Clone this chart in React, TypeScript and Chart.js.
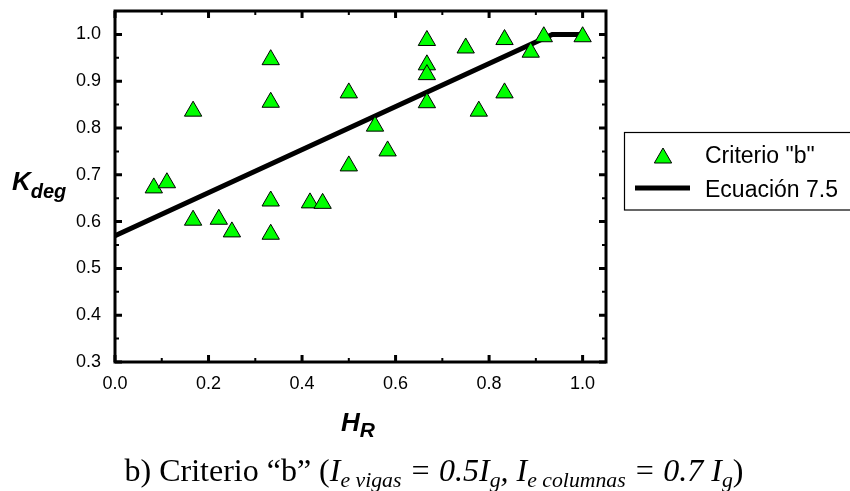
import React, { useEffect, useRef } from "react";
import { Chart, registerables } from "chart.js";

Chart.register(...registerables);

// ---- data ----
const hR = [0.083, 0.111, 0.167, 0.167, 0.222, 0.25, 0.333, 0.333, 0.333, 0.333, 0.417, 0.444, 0.5, 0.5, 0.556, 0.583, 0.667, 0.667, 0.667, 0.667, 0.75, 0.778, 0.833, 0.833, 0.889, 0.917, 1.0];
const kDeg = [0.672, 0.683, 0.836, 0.603, 0.605, 0.578, 0.946, 0.855, 0.644, 0.573, 0.64, 0.639, 0.875, 0.719, 0.804, 0.751, 0.987, 0.935, 0.914, 0.854, 0.971, 0.836, 0.989, 0.875, 0.962, 0.995, 0.995];
const eqX = [0, 0.935, 1.0];
const eqY = [0.57, 1.0, 1.0];

const xTicks = [0, 0.2, 0.4, 0.6, 0.8, 1.0];
const xMinor = [0.1, 0.3, 0.5, 0.7, 0.9];
const yTicks = [0.3, 0.4, 0.5, 0.6, 0.7, 0.8, 0.9, 1.0];
const yMinor = [0.35, 0.45, 0.55, 0.65, 0.75, 0.85, 0.95];

const seriesLabels = ['Criterio "b"', "Ecuación 7.5"];

const SANS = "'Liberation Sans', Arial, sans-serif";

function triPath(ctx: CanvasRenderingContext2D, x: number, y: number, r: number) {
  ctx.beginPath();
  let a = 0;
  for (let i = 0; i < 3; i++) {
    const px = x + Math.sin(a) * r;
    const py = y - Math.cos(a) * r;
    if (i === 0) ctx.moveTo(px, py);
    else ctx.lineTo(px, py);
    a += (2 * Math.PI) / 3;
  }
  ctx.closePath();
}

const framePlugin = {
  id: "frameTicks",
  beforeDatasetsDraw(chart: any) {
    const { ctx, chartArea, scales } = chart;
    const { left, right, top, bottom } = chartArea;
    ctx.save();
    ctx.strokeStyle = "#000";
    ctx.lineWidth = 3;
    ctx.strokeRect(left, top, right - left, bottom - top);
    const drawX = (vals: number[], len: number) => {
      vals.forEach((v) => {
        const px = scales.x.getPixelForValue(v);
        ctx.beginPath();
        ctx.moveTo(px, bottom);
        ctx.lineTo(px, bottom - len);
        ctx.moveTo(px, top);
        ctx.lineTo(px, top + len);
        ctx.stroke();
      });
    };
    const drawY = (vals: number[], len: number) => {
      vals.forEach((v) => {
        const py = scales.y.getPixelForValue(v);
        ctx.beginPath();
        ctx.moveTo(left, py);
        ctx.lineTo(left + len, py);
        ctx.moveTo(right, py);
        ctx.lineTo(right - len, py);
        ctx.stroke();
      });
    };
    ctx.lineWidth = 3;
    drawX(xTicks, 7);
    drawY(yTicks, 7);
    ctx.lineWidth = 2;
    drawX(xMinor, 4);
    drawY(yMinor, 4);
    ctx.restore();
  },
  afterDraw(chart: any) {
    const { ctx } = chart;
    ctx.save();
    ctx.fillStyle = "#000";
    ctx.textBaseline = "alphabetic";
    ctx.textAlign = "left";
    // y title K_deg
    ctx.font = `italic bold 26px ${SANS}`;
    ctx.fillText("K", 12, 190);
    const kw = ctx.measureText("K").width;
    ctx.font = `italic bold 20px ${SANS}`;
    ctx.fillText("deg", 12 + kw, 198);
    // x title H_R
    ctx.font = `italic bold 26px ${SANS}`;
    ctx.fillText("H", 341, 431);
    const hw = ctx.measureText("H").width;
    ctx.font = `italic bold 21px ${SANS}`;
    ctx.fillText("R", 341 + hw, 437);

    // legend
    ctx.strokeStyle = "#000";
    ctx.lineWidth = 1.2;
    ctx.strokeRect(624.5, 132.5, 300, 77.5);
    const ds0 = chart.data.datasets[0];
    triPath(ctx, 663, 158, 10);
    ctx.fillStyle = ds0.backgroundColor;
    ctx.fill();
    ctx.lineWidth = 1;
    ctx.strokeStyle = "#000";
    ctx.stroke();
    ctx.beginPath();
    ctx.lineWidth = 5;
    ctx.moveTo(635, 188);
    ctx.lineTo(690, 188);
    ctx.stroke();
    ctx.fillStyle = "#000";
    ctx.font = `23px ${SANS}`;
    ctx.fillText(seriesLabels[0], 705, 163);
    ctx.fillText(seriesLabels[1], 705, 197);
    ctx.restore();
  },
};

export default function App() {
  const ref = useRef<HTMLCanvasElement | null>(null);
  useEffect(() => {
    if (!ref.current) return;
    const chart = new Chart(ref.current, {
      type: "scatter",
      data: {
        datasets: [
          {
            label: seriesLabels[0],
            data: hR.map((x, i) => ({ x, y: kDeg[i] })),
            pointStyle: "triangle",
            pointRadius: 10,
            pointHoverRadius: 10,
            backgroundColor: "#00ff00",
            borderColor: "#000",
            borderWidth: 1,
            showLine: false,
            order: 0,
          },
          {
            label: seriesLabels[1],
            data: eqX.map((x, i) => ({ x, y: eqY[i] })),
            showLine: true,
            borderColor: "#000",
            borderWidth: 5,
            pointRadius: 0,
            fill: false,
            order: 1,
          },
        ],
      },
      options: {
        animation: false,
        responsive: false,
        layout: { padding: { left: 0, top: 9, right: 244, bottom: 0 } },
        plugins: { legend: { display: false }, tooltip: { enabled: false } },
        scales: {
          x: {
            type: "linear",
            min: 0,
            max: 1.05,
            grid: { display: false },
            border: { display: false },
            afterBuildTicks: (s: any) => {
              s.ticks = xTicks.map((v) => ({ value: v }));
            },
            afterFit: (s: any) => {
              s.height = 129;
              s.paddingLeft = 0;
              s.paddingRight = 0;
            },
            ticks: {
              color: "#000",
              padding: 3,
              maxRotation: 0,
              font: { family: SANS, size: 18 },
              callback: (v: any) => Number(v).toFixed(1),
            },
          },
          y: {
            type: "linear",
            min: 0.3,
            max: 1.05,
            grid: { display: false },
            border: { display: false },
            afterBuildTicks: (s: any) => {
              s.ticks = yTicks.map((v) => ({ value: v }));
            },
            afterFit: (s: any) => {
              s.width = 115;
              s.paddingTop = 0;
              s.paddingBottom = 0;
            },
            ticks: {
              color: "#000",
              padding: 6,
              font: { family: SANS, size: 18 },
              callback: (v: any) => Number(v).toFixed(1),
            },
          },
        },
      },
      plugins: [framePlugin],
    } as any);
    return () => chart.destroy();
  }, []);

  const sub: React.CSSProperties = { fontSize: "0.68em", position: "relative", top: "0.28em" };
  return (
    <div style={{ position: "fixed", left: 0, top: 0, width: 850, height: 491, background: "#fff" }}>
      <canvas ref={ref} width={850} height={491} style={{ position: "absolute", left: 0, top: 0 }} />
      <div
        style={{
          position: "absolute",
          left: 0,
          width: 868,
          top: 452,
          textAlign: "center",
          fontFamily: "'Liberation Serif', 'Times New Roman', serif",
          fontSize: 32,
          lineHeight: "36px",
          whiteSpace: "nowrap",
          color: "#000",
        }}
      >
        b) Criterio “b” (
        <i>
          I<span style={sub}>e vigas</span> = 0.5I<span style={sub}>g</span>, I<span style={sub}>e columnas</span> = 0.7 I<span style={sub}>g</span>
        </i>
        )
      </div>
    </div>
  );
}
